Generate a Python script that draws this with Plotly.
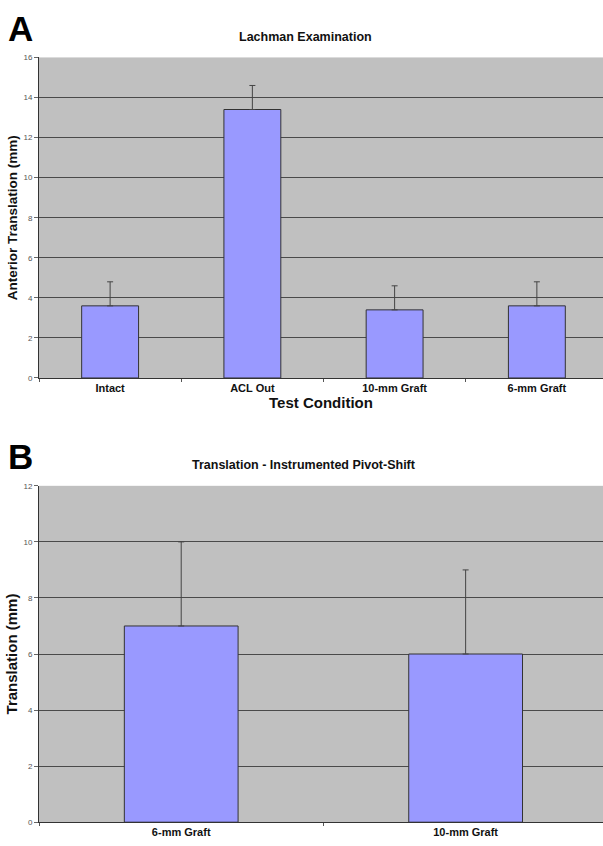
import plotly.graph_objects as go

# Panel A data
cats_a = ["Intact", "ACL Out", "10-mm Graft", "6-mm Graft"]
vals_a = [3.6, 13.4, 3.4, 3.6]
err_a = [1.2, 1.2, 1.2, 1.2]
yticks_a = [0, 2, 4, 6, 8, 10, 12, 14, 16]

# Panel B data
cats_b = ["6-mm Graft", "10-mm Graft"]
vals_b = [7, 6]
err_b = [3, 3]
yticks_b = [0, 2, 4, 6, 8, 10, 12]

W, H = 603, 846
L = 39
BAR = "#9999FF"
EDGE = "#333333"
FONT = "Liberation Sans, Arial, sans-serif"


def px_x(px):
    return (px - L) / (W - L)


def px_y(px):
    return 1 - px / H


fig = go.Figure()
fig.add_trace(go.Bar(x=cats_a, y=vals_a, xaxis="x", yaxis="y", width=0.4,
                     marker=dict(color=BAR, line=dict(color=EDGE, width=1)),
                     error_y=dict(type="data", array=err_a, symmetric=False,
                                  arrayminus=[0] * len(err_a), color="#444444",
                                  thickness=1, width=3),
                     showlegend=False))
fig.add_trace(go.Bar(x=cats_b, y=vals_b, xaxis="x2", yaxis="y2", width=0.4,
                     marker=dict(color=BAR, line=dict(color=EDGE, width=1)),
                     error_y=dict(type="data", array=err_b, symmetric=False,
                                  arrayminus=[0] * len(err_b), color="#444444",
                                  thickness=1, width=3),
                     showlegend=False))

common_x = dict(type="category", showgrid=False, showline=True, linecolor="#333333",
                linewidth=1, ticks="outside", ticklen=3, tickcolor="#555555",
                tickson="boundaries", zeroline=False,
                tickfont=dict(family=FONT, size=11, color="#111111", weight="bold"))
common_y = dict(showgrid=True, gridcolor="#4a4a4a", gridwidth=1, showline=True,
                linecolor="#333333", linewidth=1, ticks="outside", ticklen=4,
                tickcolor="#666666", zeroline=False,
                tickfont=dict(family=FONT, size=8, color="#555555"))

fig.update_layout(
    width=W, height=H,
    margin=dict(l=L, r=0, t=0, b=0),
    paper_bgcolor="white",
    plot_bgcolor="#C0C0C0",
    xaxis=dict(common_x, domain=[0, 1], anchor="y", range=[-0.5, 3.465],
               title=dict(text="Test Condition", standoff=3,
                          font=dict(family=FONT, size=15, color="#111111", weight="bold"))),
    yaxis=dict(common_y, domain=[px_y(378), px_y(54)], anchor="x", range=[0, 16],
               tickvals=yticks_a,
               title=dict(text="Anterior Translation (mm)", standoff=2,
                          font=dict(family=FONT, size=13.5, color="#111111", weight="bold"))),
    xaxis2=dict(common_x, domain=[0, 1], anchor="y2", range=[-0.5, 1.483]),
    yaxis2=dict(common_y, domain=[px_y(827), px_y(487)], anchor="x2", range=[0, 12],
                tickvals=yticks_b,
                title=dict(text="Translation (mm)", standoff=2,
                           font=dict(family=FONT, size=15, color="#111111", weight="bold"))),
    annotations=[
        dict(text="A", x=px_x(6), y=px_y(3), xref="paper", yref="paper",
             xanchor="left", yanchor="top", showarrow=False,
             font=dict(family=FONT, size=35, color="black", weight="bold")),
        dict(text="B", x=px_x(6), y=px_y(436), xref="paper", yref="paper",
             xanchor="left", yanchor="top", showarrow=False,
             font=dict(family=FONT, size=35, color="black", weight="bold")),
        dict(text="Lachman Examination", x=px_x(305), y=px_y(33), xref="paper", yref="paper",
             xanchor="center", yanchor="middle", showarrow=False,
             font=dict(family=FONT, size=12.5, color="#111111", weight="bold")),
        dict(text="Translation - Instrumented Pivot-Shift", x=px_x(304), y=px_y(466),
             xref="paper", yref="paper", xanchor="center", yanchor="middle",
             showarrow=False,
             font=dict(family=FONT, size=12.5, color="#111111", weight="bold")),
    ],
)

fig.write_html("out.html", config={"displayModeBar": False},
               post_script="document.body.style.margin='0px';")
